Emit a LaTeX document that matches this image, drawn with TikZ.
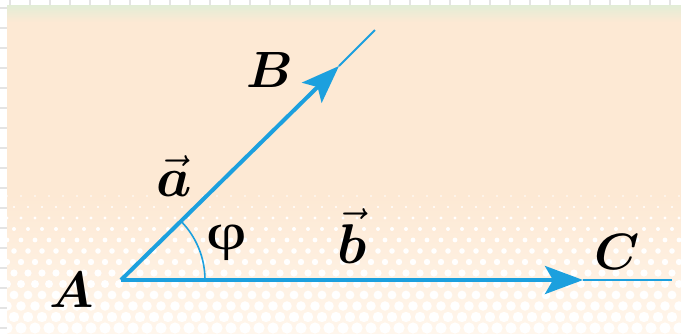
\RequirePackage{fix-cm}
\documentclass[tikz,border=0pt]{standalone}
\usepackage{fontspec}
\usepackage{bm}
\usepackage{graphicx}
\usetikzlibrary{arrows.meta}
\newfontfamily\phifont{Liberation Serif}
\definecolor{peach}{RGB}{253,233,212}
\definecolor{mint}{RGB}{226,237,214}
\definecolor{gridgray}{RGB}{228,228,228}
\definecolor{vecblue}{RGB}{28,160,222}
\definecolor{paleend}{RGB}{255,246,236}
\tikzset{
  shaft/.style={draw=vecblue,line width=4pt,-{Stealth[length=38pt,width=28pt,inset=8pt]}},
  tail/.style={draw=vecblue,line width=2pt},
  anglearc/.style={draw=vecblue,line width=1.6pt},
  ptlabel/.style={inner sep=0pt,font=\fontsize{51}{55}\selectfont},
  veclabel/.style={inner sep=0pt,font=\fontsize{56}{60}\selectfont},
  philabel/.style={inner sep=0pt,font=\fontsize{52}{56}\selectfont\phifont}
}
\begin{document}
\begin{tikzpicture}[x=1pt,y=1pt]
\useasboundingbox (0,0) rectangle (681,-333);
% page grid
\fill[white] (0,0) rectangle (681,-333);
\foreach \gx in {10,30,...,690} \draw[gridgray,line width=1.5pt] (\gx,0) -- (\gx,-333);
\foreach \gy in {8,28,...,340} \draw[gridgray,line width=1.5pt] (0,-\gy) -- (681,-\gy);
% background panel
\fill[peach] (7,-5) rectangle (681,-333);
\shade[top color=mint,bottom color=peach] (7,-5) rectangle (681,-22);
\shade[top color=peach,bottom color=paleend] (7,-195) rectangle (681,-333);
\begin{scope}
\clip (7,-5) rectangle (681,-333);
\foreach \row in {0,...,12}{
  \pgfmathsetmacro\yy{196+\row*11}
  \pgfmathsetmacro\rr{0.8+\row*0.4}
  \pgfmathsetmacro\off{mod(\row,2)*7}
  \foreach \col in {0,...,48}{
    \fill[white] ({7+\off+\col*14},-\yy) circle (\rr);
  }
}
\end{scope}
% geometry
\coordinate (O) at (121,-280);
\coordinate (Bt) at (339,-66);
\coordinate (Be) at (375,-30);
\coordinate (Ct) at (583,-280);
\coordinate (Ce) at (672,-280);
\draw[anglearc] (O) ++(84,0) arc[start angle=0,end angle=44.5,radius=84];
\path[shaft] (O) -- (Bt);
\path[tail] (Bt) -- (Be);
\path[shaft] (O) -- (Ct);
\path[tail] (Ct) -- (Ce);
% labels
\node[ptlabel] (A) at (72,-290) {$\bm{A}$};
\node[ptlabel] (B) at (270,-70) {$\bm{B}$};
\node[ptlabel] (C) at (617,-252) {$\bm{C}$};
\node[veclabel] (a) at (174,-176) {$\vec{\bm{a}}$};
\node[veclabel] (b) at (352,-236) {$\vec{\bm{b}}$};
\node[philabel] (phi) at (227,-243) {\scalebox{1.35}[1]{φ}};
\end{tikzpicture}
\end{document}
